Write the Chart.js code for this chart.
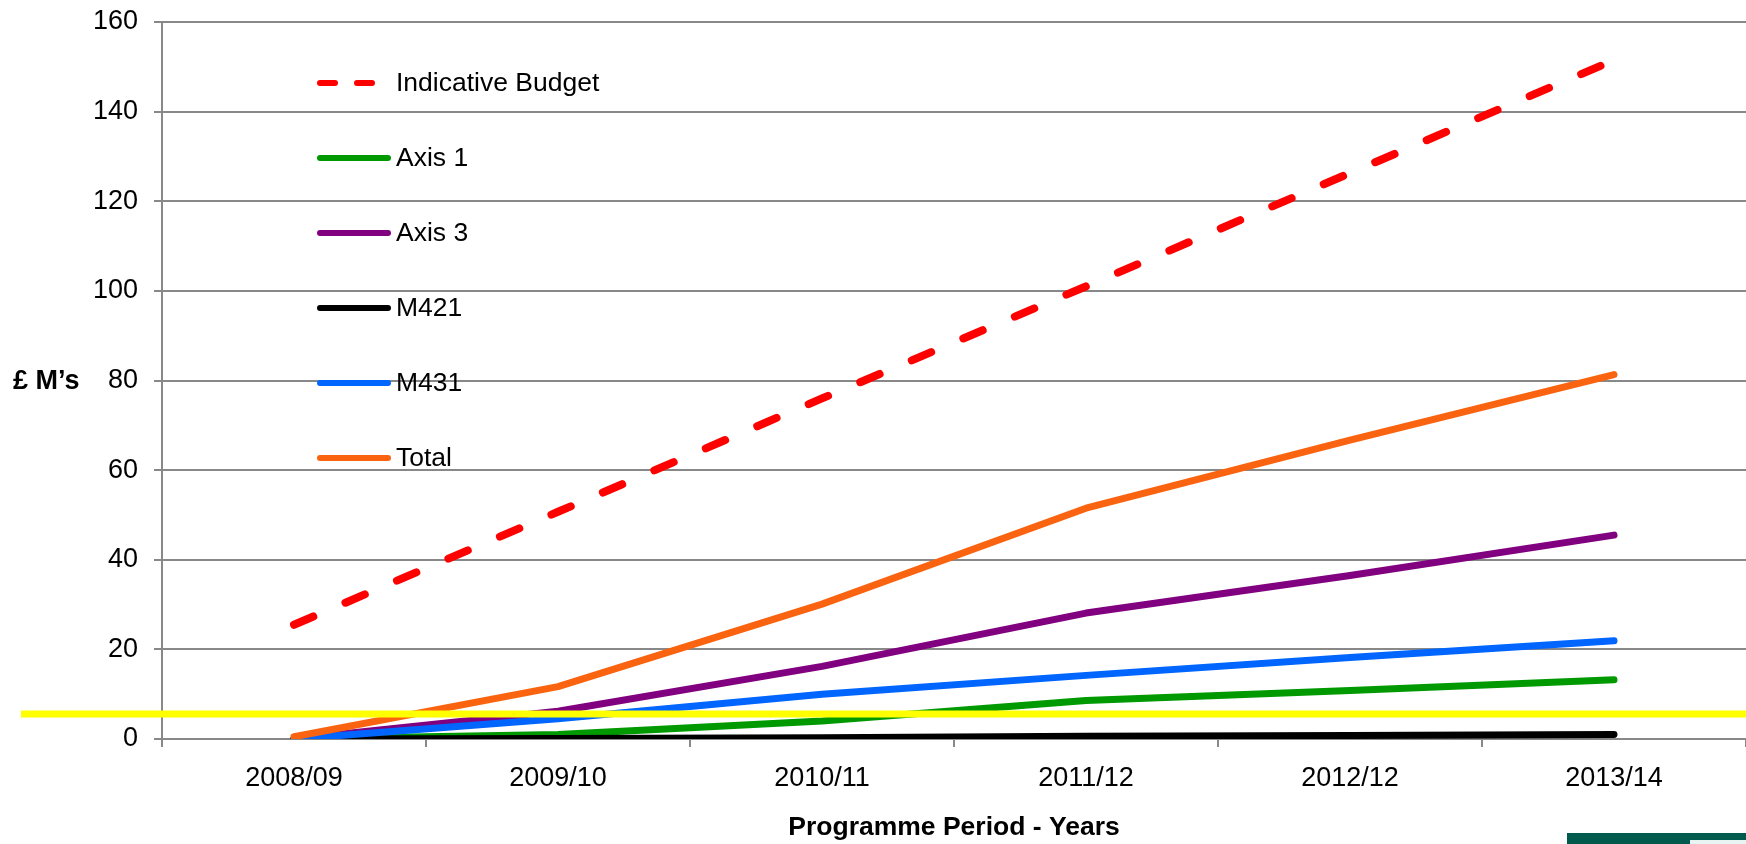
<!DOCTYPE html>
<html>
<head>
<meta charset="utf-8">
<script src="https://cdn.jsdelivr.net/npm/chart.js@4.4.1/dist/chart.umd.min.js"></script>
<style>
    html, body { margin: 0; padding: 0; background: #ffffff; overflow: hidden; }
    #box { width: 1746px; height: 844px; position: relative; }
</style>
</head>
<body>
<div id="box"><canvas id="grafico"></canvas></div>
<script>
const anos = ['2008/09', '2009/10', '2010/11', '2011/12', '2012/12', '2013/14'];

const indicativeBudget = [25.5, 50.7, 76, 101, 126.3, 151.5];
const axis1 = [0, 1, 4, 8.6, 10.8, 13.2];
const axis3 = [0, 6.2, 16.2, 28.1, 36.5, 45.5];
const m421  = [0, 0.1, 0.3, 0.6, 0.8, 1.0];
const m431  = [0, 4.5, 10, 14.2, 18.2, 21.9];
const total = [0.5, 11.7, 30.1, 51.5, 66.7, 81.3];

const yTicks = [0, 20, 40, 60, 80, 100, 120, 140, 160];
const linhaAmarela = 5.6;   // marcação amarela por cima do gráfico

const FONTE = '"Liberation Sans", Arial, sans-serif';

const series = [
    { label: 'Indicative Budget', data: indicativeBudget, cor: '#ff0000', dash: [21, 35] },
    { label: 'Axis 1', data: axis1, cor: '#009900' },
    { label: 'Axis 3', data: axis3, cor: '#800080' },
    { label: 'M421',   data: m421,  cor: '#000000' },
    { label: 'M431',   data: m431,  cor: '#0066ff' },
    { label: 'Total',  data: total, cor: '#fa6410' }
];

const datasets = series.map((s, i) => ({
    label: s.label,
    data: s.data,
    borderColor: s.cor,
    backgroundColor: s.cor,
    borderWidth: s.dash ? 8 : 7,
    borderDash: s.dash || [],
    borderCapStyle: 'round',
    borderJoinStyle: 'round',
    pointRadius: 0,
    tension: 0,
    fill: false,
    order: series.length - i   // Total por cima, como no Excel
}));

// legenda desenhada à mão dentro da área do gráfico
const legendaPlugin = {
    id: 'legenda',
    afterDraw(chart) {
        const ctx = chart.ctx;
        ctx.save();
        series.forEach((s, i) => {
            const y = 83 + i * 75;
            ctx.strokeStyle = s.cor;
            ctx.lineWidth = 6;
            ctx.lineCap = 'round';
            ctx.setLineDash(s.dash ? [15, 22] : []);
            ctx.beginPath();
            ctx.moveTo(320, y);
            ctx.lineTo(388, y);
            ctx.stroke();
            ctx.setLineDash([]);
            ctx.fillStyle = '#000000';
            ctx.font = '26.5px ' + FONTE;
            ctx.textAlign = 'left';
            ctx.textBaseline = 'middle';
            ctx.fillText(s.label, 396, y + 1);
        });
        ctx.restore();
    }
};

const extrasPlugin = {
    id: 'extras',
    afterDatasetsDraw(chart) {
        const ctx = chart.ctx;
        const y = chart.scales.y.getPixelForValue(linhaAmarela);
        ctx.save();
        ctx.strokeStyle = '#ffff00';
        ctx.lineWidth = 7;
        ctx.beginPath();
        ctx.moveTo(21, y);
        ctx.lineTo(chart.width, y);
        ctx.stroke();
        ctx.restore();
    },
    afterDraw(chart) {
        const ctx = chart.ctx;
        const area = chart.chartArea;
        ctx.save();
        ctx.fillStyle = '#000000';
        ctx.textBaseline = 'middle';
        // título do eixo y na horizontal
        ctx.font = 'bold 27px ' + FONTE;
        ctx.textAlign = 'left';
        ctx.fillText('£ M’s', 13, (area.top + area.bottom) / 2 + 1);
        // título do eixo x
        ctx.font = 'bold 26.5px ' + FONTE;
        ctx.textAlign = 'center';
        ctx.fillText('Programme Period - Years', (area.left + area.right) / 2, 828);
        // pedaço do logotipo no canto
        ctx.fillStyle = '#005a4e';
        ctx.fillRect(1567, 833, chart.width - 1567, 11);
        ctx.fillStyle = '#e8f4f2';
        ctx.fillRect(1690, 840, chart.width - 1690, 4);
        ctx.restore();
    }
};

new Chart(document.getElementById('grafico'), {
    type: 'line',
    data: { labels: anos, datasets: datasets },
    options: {
        responsive: true,
        maintainAspectRatio: false,
        animation: false,
        layout: { padding: { top: 22, left: 0, right: 0, bottom: 0 } },
        plugins: {
            legend: { display: false },
            tooltip: { enabled: false }
        },
        scales: {
            x: {
                offset: true,
                grid: {
                    offset: true,
                    drawOnChartArea: false,
                    color: '#888888',
                    lineWidth: 2,
                    tickLength: 8
                },
                border: { color: '#888888', width: 2 },
                ticks: {
                    color: '#000000',
                    font: { family: FONTE, size: 27 },
                    padding: 15,
                    maxRotation: 0
                },
                afterFit(scale) {
                    scale.height = 105;
                    scale.paddingLeft = 0;
                    scale.paddingRight = 0;
                }
            },
            y: {
                min: 0,
                max: 160,
                afterBuildTicks(scale) { scale.ticks = yTicks.map(v => ({ value: v })); },
                grid: { color: '#888888', lineWidth: 2, tickLength: 8 },
                border: { color: '#888888', width: 2 },
                ticks: {
                    color: '#000000',
                    font: { family: FONTE, size: 27 },
                    padding: 16
                },
                afterFit(scale) {
                    scale.width = 162;
                    scale.paddingTop = 0;
                    scale.paddingBottom = 0;
                }
            }
        }
    },
    plugins: [legendaPlugin, extrasPlugin]
});
</script>
</body>
</html>
